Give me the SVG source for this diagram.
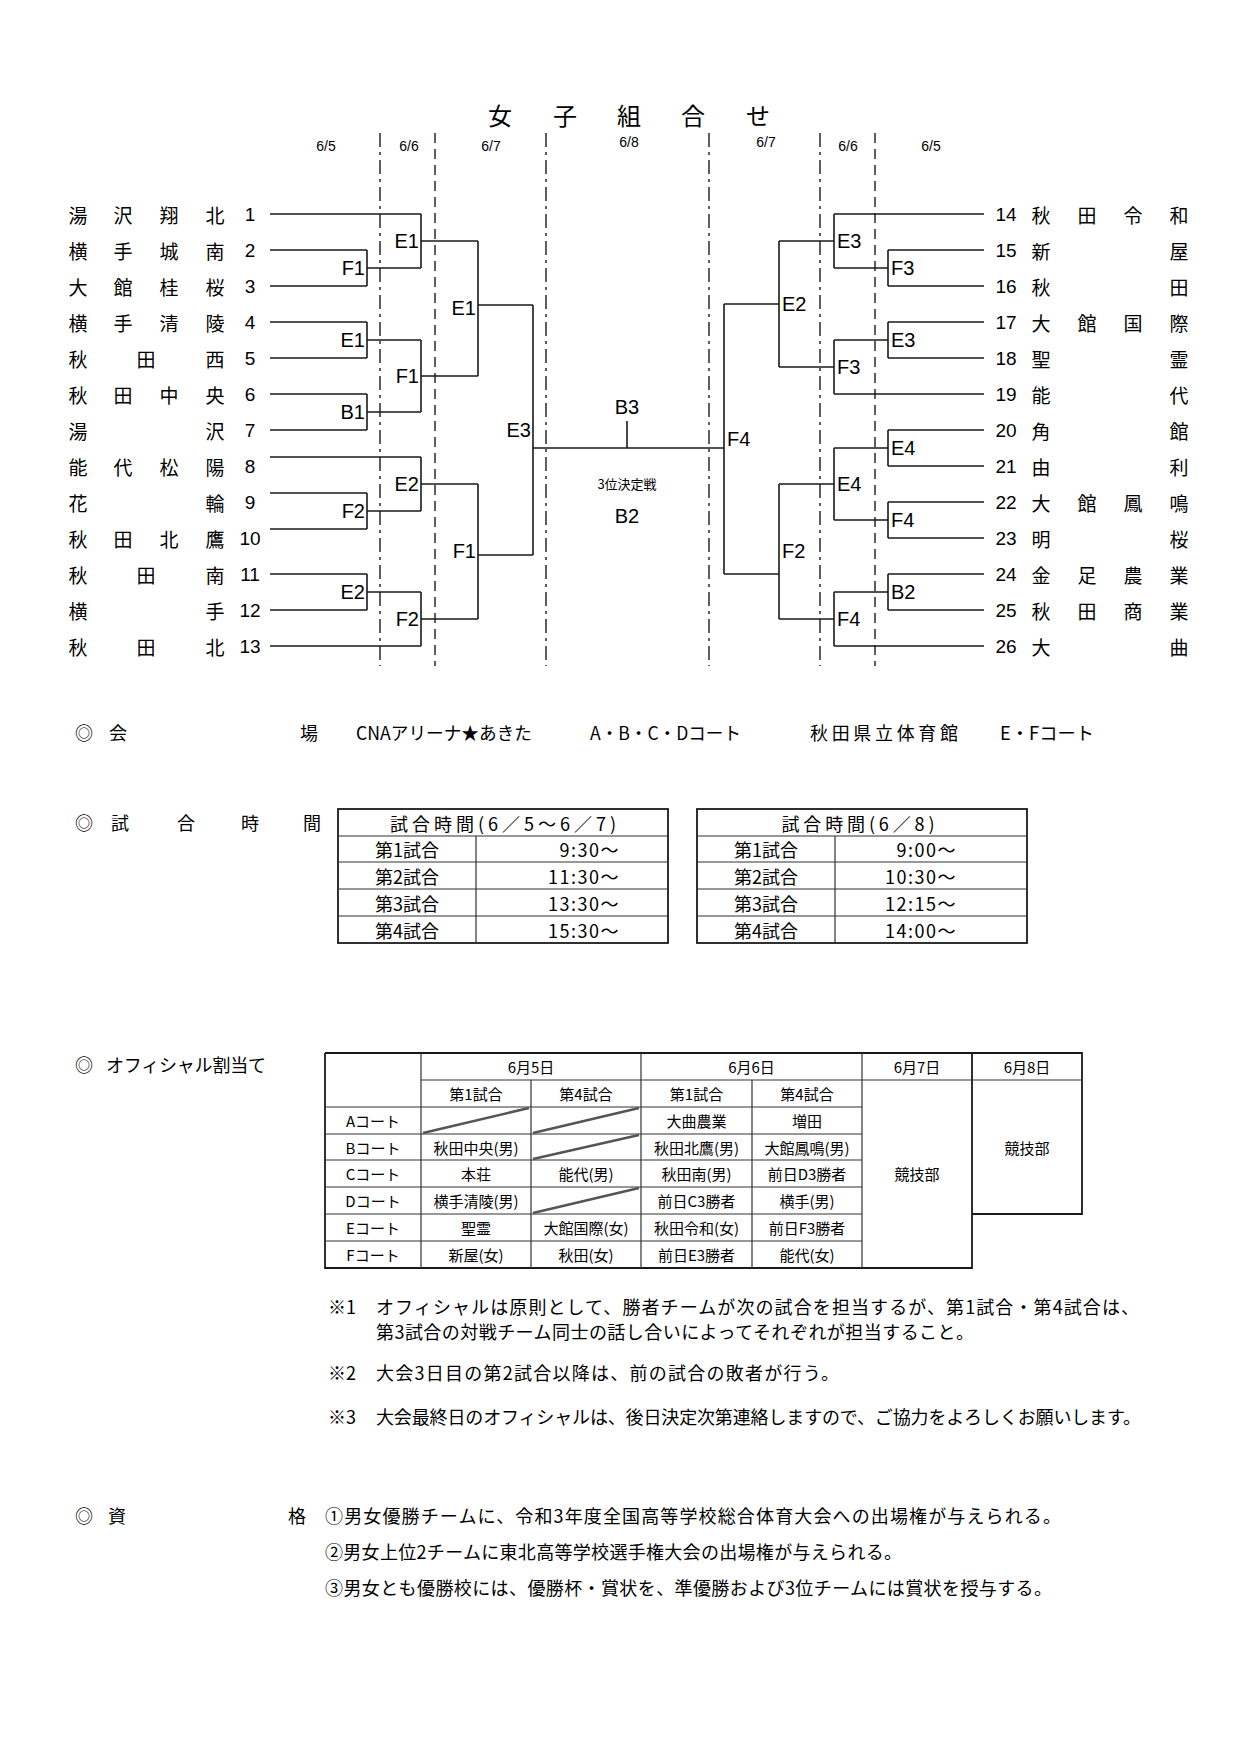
<svg xmlns="http://www.w3.org/2000/svg" width="1240" height="1755" viewBox="0 0 1240 1755">
<style>
.ln{stroke:#1a1a1a;stroke-width:1.6;fill:none}
.dd{stroke:#1a1a1a;stroke-width:1.4;fill:none;stroke-dasharray:14 5 3 5}
.ds{stroke:#1a1a1a;stroke-width:1.4;fill:none;stroke-dasharray:10 6}
.tb{stroke:#1a1a1a;stroke-width:1.8;fill:none}
.ti{stroke:#333;stroke-width:1.2;fill:none}
.sl{stroke:#555;stroke-width:2.6;fill:none}
text{fill:#000;dominant-baseline:central}
.jp{font-family:'Noto Sans CJK JP',sans-serif}
.nm{font-family:'Noto Sans CJK JP',sans-serif;font-size:19px;text-anchor:middle}
.num{font-family:'Liberation Sans Narrow','Liberation Sans',sans-serif;font-size:19px;text-anchor:middle}
.lbl{font-family:'Liberation Sans Narrow','Liberation Sans',sans-serif;font-size:20px}
.le{text-anchor:end}
.dt{font-family:'Liberation Sans Narrow','Liberation Sans',sans-serif;font-size:14px;text-anchor:middle}
.bd{font-family:'Noto Sans CJK JP',sans-serif;font-size:18px}
.tt{font-family:'Noto Sans CJK JP',sans-serif;font-size:15px;text-anchor:middle}
.mid{text-anchor:middle}
</style>

<g id="title">
<text class="jp" font-size="24" text-anchor="middle" x="500 565 629 693 758" y="114">女子組合せ</text>
</g>

<g id="dates">
<text class="dt" x="326" y="146">6/5</text>
<text class="dt" x="409" y="146">6/6</text>
<text class="dt" x="491" y="146">6/7</text>
<text class="dt" x="629" y="142">6/8</text>
<text class="dt" x="766" y="142">6/7</text>
<text class="dt" x="848" y="146">6/6</text>
<text class="dt" x="931" y="146">6/5</text>
</g>

<g id="day-dividers">
<line class="dd" x1="380" y1="133" x2="380" y2="666"/>
<line class="ds" x1="435" y1="133" x2="435" y2="666"/>
<line class="dd" x1="546" y1="133" x2="546" y2="666"/>
<line class="dd" x1="709" y1="133" x2="709" y2="666"/>
<line class="dd" x1="820" y1="133" x2="820" y2="666"/>
<line class="ds" x1="875" y1="133" x2="875" y2="666"/>
</g>

<g id="connectors">
<path class="ln" d="M270 214H421 M270 250H367 M270 286H367 M367 250V286 M367 268H421 M421 214V268 M421 241H478"/>
<path class="ln" d="M270 322H367 M270 358H367 M367 322V358 M367 340H421 M270 394H367 M270 430H367 M367 394V430 M367 412H421 M421 340V412 M421 376H478 M478 241V376 M478 305H533"/>
<path class="ln" d="M270 457H421 M270 493H367 M270 529H367 M367 493V529 M367 511H421 M421 457V511 M421 484H478"/>
<path class="ln" d="M270 574H367 M270 610H367 M367 574V610 M367 592H421 M270 646H421 M421 592V646 M421 619H478 M478 484V619 M478 555H533 M533 305V555"/>
<path class="ln" d="M533 448H724 M627 421V448"/>
<path class="ln" d="M984 214H834 M984 250H888 M984 286H888 M888 250V286 M888 268H834 M834 214V268 M834 241H779"/>
<path class="ln" d="M984 322H888 M984 358H888 M888 322V358 M888 340H834 M984 394H834 M834 340V394 M834 367H779 M779 241V367 M779 304H724"/>
<path class="ln" d="M984 430H888 M984 466H888 M888 430V466 M888 448H834 M984 502H888 M984 538H888 M888 502V538 M888 520H834 M834 448V520 M834 484H779"/>
<path class="ln" d="M984 574H888 M984 610H888 M888 574V610 M888 592H834 M984 646H834 M834 592V646 M834 619H779 M779 484V619 M779 574H724 M724 304V574"/>
</g>

<g id="teams-left">
<g id="t1"><text class="nm" x="78 123 169 215" y="214">湯沢翔北</text><text class="num" x="250" y="214">1</text></g>
<g id="t2"><text class="nm" x="78 123 169 215" y="250">横手城南</text><text class="num" x="250" y="250">2</text></g>
<g id="t3"><text class="nm" x="78 123 169 215" y="286">大館桂桜</text><text class="num" x="250" y="286">3</text></g>
<g id="t4"><text class="nm" x="78 123 169 215" y="322">横手清陵</text><text class="num" x="250" y="322">4</text></g>
<g id="t5"><text class="nm" x="78 146 215" y="358">秋田西</text><text class="num" x="250" y="358">5</text></g>
<g id="t6"><text class="nm" x="78 123 169 215" y="394">秋田中央</text><text class="num" x="250" y="394">6</text></g>
<g id="t7"><text class="nm" x="78 215" y="430">湯沢</text><text class="num" x="250" y="430">7</text></g>
<g id="t8"><text class="nm" x="78 123 169 215" y="466">能代松陽</text><text class="num" x="250" y="466">8</text></g>
<g id="t9"><text class="nm" x="78 215" y="502">花輪</text><text class="num" x="250" y="502">9</text></g>
<g id="t10"><text class="nm" x="78 123 169 215" y="538">秋田北鷹</text><text class="num" x="250" y="538">10</text></g>
<g id="t11"><text class="nm" x="78 146 215" y="574">秋田南</text><text class="num" x="250" y="574">11</text></g>
<g id="t12"><text class="nm" x="78 215" y="610">横手</text><text class="num" x="250" y="610">12</text></g>
<g id="t13"><text class="nm" x="78 146 215" y="646">秋田北</text><text class="num" x="250" y="646">13</text></g>
</g>

<g id="teams-right">
<g id="t14"><text class="num" x="1006" y="214">14</text><text class="nm" x="1041 1087 1133 1179" y="214">秋田令和</text></g>
<g id="t15"><text class="num" x="1006" y="250">15</text><text class="nm" x="1041 1179" y="250">新屋</text></g>
<g id="t16"><text class="num" x="1006" y="286">16</text><text class="nm" x="1041 1179" y="286">秋田</text></g>
<g id="t17"><text class="num" x="1006" y="322">17</text><text class="nm" x="1041 1087 1133 1179" y="322">大館国際</text></g>
<g id="t18"><text class="num" x="1006" y="358">18</text><text class="nm" x="1041 1179" y="358">聖霊</text></g>
<g id="t19"><text class="num" x="1006" y="394">19</text><text class="nm" x="1041 1179" y="394">能代</text></g>
<g id="t20"><text class="num" x="1006" y="430">20</text><text class="nm" x="1041 1179" y="430">角館</text></g>
<g id="t21"><text class="num" x="1006" y="466">21</text><text class="nm" x="1041 1179" y="466">由利</text></g>
<g id="t22"><text class="num" x="1006" y="502">22</text><text class="nm" x="1041 1087 1133 1179" y="502">大館鳳鳴</text></g>
<g id="t23"><text class="num" x="1006" y="538">23</text><text class="nm" x="1041 1179" y="538">明桜</text></g>
<g id="t24"><text class="num" x="1006" y="574">24</text><text class="nm" x="1041 1087 1133 1179" y="574">金足農業</text></g>
<g id="t25"><text class="num" x="1006" y="610">25</text><text class="nm" x="1041 1087 1133 1179" y="610">秋田商業</text></g>
<g id="t26"><text class="num" x="1006" y="646">26</text><text class="nm" x="1041 1179" y="646">大曲</text></g>
</g>

<g id="match-labels">
<text class="lbl le" x="365" y="268">F1</text>
<text class="lbl le" x="419" y="241">E1</text>
<text class="lbl le" x="365" y="340">E1</text>
<text class="lbl le" x="365" y="412">B1</text>
<text class="lbl le" x="419" y="376">F1</text>
<text class="lbl le" x="476" y="308">E1</text>
<text class="lbl le" x="365" y="511">F2</text>
<text class="lbl le" x="419" y="484">E2</text>
<text class="lbl le" x="365" y="592">E2</text>
<text class="lbl le" x="419" y="619">F2</text>
<text class="lbl le" x="476" y="551">F1</text>
<text class="lbl le" x="531" y="430">E3</text>
<text class="lbl" x="837" y="241">E3</text>
<text class="lbl" x="891" y="268">F3</text>
<text class="lbl" x="891" y="340">E3</text>
<text class="lbl" x="837" y="367">F3</text>
<text class="lbl" x="782" y="304">E2</text>
<text class="lbl" x="891" y="448">E4</text>
<text class="lbl" x="891" y="520">F4</text>
<text class="lbl" x="837" y="484">E4</text>
<text class="lbl" x="891" y="592">B2</text>
<text class="lbl" x="837" y="619">F4</text>
<text class="lbl" x="782" y="551">F2</text>
<text class="lbl" x="727" y="439">F4</text>
</g>

<g id="final">
<text class="lbl mid" x="627" y="407">B3</text>
<text class="jp mid" font-size="13" x="627" y="483">3位決定戦</text>
<text class="lbl mid" x="627" y="516">B2</text>
</g>

<g id="venue">
<text class="bd mid" x="84" y="732">◎</text>
<text class="bd mid" x="118" y="732">会</text>
<text class="bd mid" x="309" y="732">場</text>
<text class="bd" x="356" y="732" textLength="176" lengthAdjust="spacingAndGlyphs">CNAアリーナ★あきた</text>
<text class="bd" x="590" y="732" textLength="151" lengthAdjust="spacingAndGlyphs">A・B・C・Dコート</text>
<text class="bd" x="810" y="732" textLength="148">秋田県立体育館</text>
<text class="bd" x="1000" y="732" textLength="94" lengthAdjust="spacingAndGlyphs">E・Fコート</text>
</g>

<g id="times-heading">
<text class="bd mid" x="84" y="822">◎</text>
<text class="bd mid" x="120" y="822">試</text>
<text class="bd mid" x="186" y="822">合</text>
<text class="bd mid" x="250" y="822">時</text>
<text class="bd mid" x="312" y="822">間</text>
</g>

<g id="times-table-1">
<rect class="tb" x="338" y="809" width="330" height="134"/>
<path class="ti" d="M338 836H668 M338 862H668 M338 889H668 M338 916H668 M476 836V943"/>
<text class="bd mid" x="503" y="822.5" textLength="226">試合時間(6／5～6／7)</text>
<text class="bd mid" font-size="19" x="407" y="849">第1試合</text>
<text class="bd mid" font-size="19" x="407" y="875.5">第2試合</text>
<text class="bd mid" font-size="19" x="407" y="902.5">第3試合</text>
<text class="bd mid" font-size="19" x="407" y="929.5">第4試合</text>
<text class="bd le" x="620" y="849" letter-spacing="1.5">9:30～</text>
<text class="bd le" x="620" y="875.5" letter-spacing="1.5">11:30～</text>
<text class="bd le" x="620" y="902.5" letter-spacing="1.5">13:30～</text>
<text class="bd le" x="620" y="929.5" letter-spacing="1.5">15:30～</text>
</g>

<g id="times-table-2">
<rect class="tb" x="697" y="809" width="330" height="134"/>
<path class="ti" d="M697 836H1027 M697 862H1027 M697 889H1027 M697 916H1027 M835 836V943"/>
<text class="bd mid" x="858" y="822.5" textLength="153">試合時間(6／8)</text>
<text class="bd mid" font-size="19" x="766" y="849">第1試合</text>
<text class="bd mid" font-size="19" x="766" y="875.5">第2試合</text>
<text class="bd mid" font-size="19" x="766" y="902.5">第3試合</text>
<text class="bd mid" font-size="19" x="766" y="929.5">第4試合</text>
<text class="bd le" x="957" y="849" letter-spacing="1.5">9:00～</text>
<text class="bd le" x="957" y="875.5" letter-spacing="1.5">10:30～</text>
<text class="bd le" x="957" y="902.5" letter-spacing="1.5">12:15～</text>
<text class="bd le" x="957" y="929.5" letter-spacing="1.5">14:00～</text>
</g>

<g id="officials-heading">
<text class="bd mid" x="84" y="1064">◎</text>
<text class="bd" x="106" y="1064" textLength="160">オフィシャル割当て</text>
</g>

<g id="officials-table">
<path class="tb" d="M325 1053H1082V1214H972 M325 1053V1268H972V1053"/>
<path class="ti" d="M421 1080H1082 M325 1107H862 M325 1134H862 M325 1160H862 M325 1187H862 M325 1214H862 M325 1241H862 M421 1053V1268 M531 1080V1268 M641 1053V1268 M752 1080V1268 M862 1053V1268"/>
<path class="sl" d="M423 1133L529 1108 M533 1133L639 1108 M533 1159L639 1135 M533 1213L639 1188"/>
<text class="tt" x="531" y="1066.5">6月5日</text>
<text class="tt" x="751.5" y="1066.5">6月6日</text>
<text class="tt" x="917" y="1066.5">6月7日</text>
<text class="tt" x="1027" y="1066.5">6月8日</text>
<text class="tt" x="476" y="1093.5">第1試合</text>
<text class="tt" x="586" y="1093.5">第4試合</text>
<text class="tt" x="696.5" y="1093.5">第1試合</text>
<text class="tt" x="807" y="1093.5">第4試合</text>
<text class="tt" x="373" y="1120.5">Aコート</text>
<text class="tt" x="373" y="1147">Bコート</text>
<text class="tt" x="373" y="1173.5">Cコート</text>
<text class="tt" x="373" y="1200.5">Dコート</text>
<text class="tt" x="373" y="1227.5">Eコート</text>
<text class="tt" x="373" y="1254.5">Fコート</text>
<text class="tt" x="696.5" y="1120.5">大曲農業</text>
<text class="tt" x="807" y="1120.5">増田</text>
<text class="tt" x="476" y="1147">秋田中央(男)</text>
<text class="tt" x="696.5" y="1147">秋田北鷹(男)</text>
<text class="tt" x="807" y="1147">大館鳳鳴(男)</text>
<text class="tt" x="476" y="1173.5">本荘</text>
<text class="tt" x="586" y="1173.5">能代(男)</text>
<text class="tt" x="696.5" y="1173.5">秋田南(男)</text>
<text class="tt" x="807" y="1173.5">前日D3勝者</text>
<text class="tt" x="476" y="1200.5">横手清陵(男)</text>
<text class="tt" x="696.5" y="1200.5">前日C3勝者</text>
<text class="tt" x="807" y="1200.5">横手(男)</text>
<text class="tt" x="476" y="1227.5">聖霊</text>
<text class="tt" x="586" y="1227.5">大館国際(女)</text>
<text class="tt" x="696.5" y="1227.5">秋田令和(女)</text>
<text class="tt" x="807" y="1227.5">前日F3勝者</text>
<text class="tt" x="476" y="1254.5">新屋(女)</text>
<text class="tt" x="586" y="1254.5">秋田(女)</text>
<text class="tt" x="696.5" y="1254.5">前日E3勝者</text>
<text class="tt" x="807" y="1254.5">能代(女)</text>
<text class="tt" x="917" y="1173.5">競技部</text>
<text class="tt" x="1027" y="1147">競技部</text>
</g>

<g id="notes">
<text class="bd" x="328" y="1306">※1</text>
<text class="bd" x="376" y="1306" textLength="763">オフィシャルは原則として、勝者チームが次の試合を担当するが、第1試合・第4試合は、</text>
<text class="bd" x="376" y="1331" textLength="598">第3試合の対戦チーム同士の話し合いによってそれぞれが担当すること。</text>
<text class="bd" x="328" y="1372">※2</text>
<text class="bd" x="376" y="1372" textLength="463">大会3日目の第2試合以降は、前の試合の敗者が行う。</text>
<text class="bd" x="328" y="1416">※3</text>
<text class="bd" x="376" y="1416" textLength="765">大会最終日のオフィシャルは、後日決定次第連絡しますので、ご協力をよろしくお願いします。</text>
</g>

<g id="qualification">
<text class="bd mid" x="84" y="1515">◎</text>
<text class="bd mid" x="117" y="1515">資</text>
<text class="bd mid" x="297" y="1515">格</text>
<text class="bd" x="325" y="1515" textLength="736">①男女優勝チームに、令和3年度全国高等学校総合体育大会への出場権が与えられる。</text>
<text class="bd" x="325" y="1551" textLength="577">②男女上位2チームに東北高等学校選手権大会の出場権が与えられる。</text>
<text class="bd" x="325" y="1587" textLength="727">③男女とも優勝校には、優勝杯・賞状を、準優勝および3位チームには賞状を授与する。</text>
</g>
</svg>
